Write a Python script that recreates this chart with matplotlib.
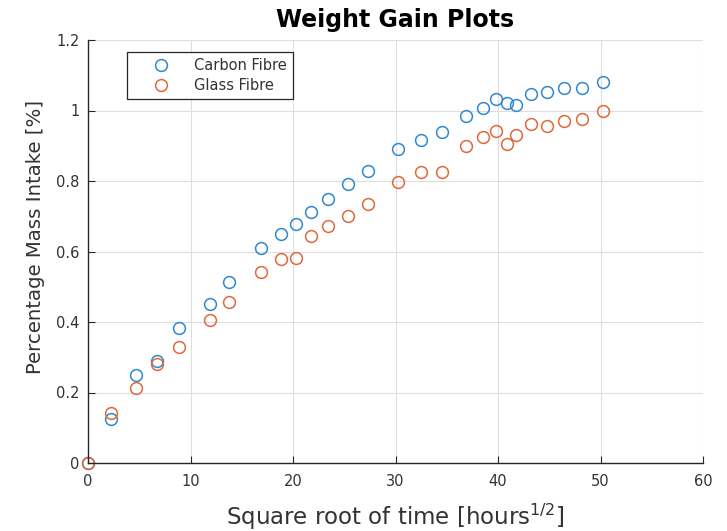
import matplotlib.pyplot as plt
import numpy as np

plt.rcParams['font.family'] = ['DejaVu Sans']

# sqrt of time [hours^1/2]
sqrt_time = [0, 2.2, 4.7, 6.7, 8.9, 11.9, 13.8, 16.9, 18.8, 20.3, 21.8, 23.4, 25.4,
             27.3, 30.2, 32.5, 34.5, 36.9, 38.5, 39.8, 40.9, 41.8, 43.2, 44.8,
             46.4, 48.2, 50.2]
carbon = [0, 0.124, 0.249, 0.289, 0.382, 0.452, 0.513, 0.610, 0.650, 0.679, 0.711,
          0.750, 0.792, 0.828, 0.892, 0.916, 0.939, 0.983, 1.006, 1.033, 1.022,
          1.017, 1.048, 1.052, 1.065, 1.063, 1.082]
glass = [0, 0.143, 0.213, 0.281, 0.329, 0.407, 0.456, 0.543, 0.579, 0.581, 0.645,
         0.671, 0.701, 0.736, 0.796, 0.826, 0.826, 0.900, 0.926, 0.943, 0.905,
         0.930, 0.962, 0.955, 0.970, 0.977, 0.999]

blue = '#2f88d0'
orange = '#e0683a'
txt = '#333333'

fig = plt.figure(figsize=(7.27, 5.31), dpi=100)
ax = fig.add_axes([88/727, 1-463/531, 615/727, 423/531])

ax.plot(sqrt_time, carbon, 'o', mfc='none', mec=blue, ms=8.5, mew=1.1,
        label='Carbon Fibre', clip_on=False)
ax.plot(sqrt_time, glass, 'o', mfc='none', mec=orange, ms=8.5, mew=1.1,
        label='Glass Fibre', clip_on=False)

ax.set_xlim(0, 60)
ax.set_ylim(0, 1.2)
ax.set_xticks(np.arange(0, 61, 10))
ax.set_yticks([0, 0.2, 0.4, 0.6, 0.8, 1, 1.2])
ax.set_yticklabels(['0', '0.2', '0.4', '0.6', '0.8', '1', '1.2'])
ax.grid(True, color='#dedede', lw=0.8)
ax.set_axisbelow(True)
for s in ['top', 'right']:
    ax.spines[s].set_visible(False)
for s in ['left', 'bottom']:
    ax.spines[s].set_color('#262626')
    ax.spines[s].set_linewidth(1.0)
ax.tick_params(direction='in', length=5, colors='#262626', labelcolor=txt,
               labelsize=10.5)
ax.tick_params(axis='x', pad=8)
ax.tick_params(axis='y', pad=6)

ax.set_title('Weight Gain Plots', fontsize=17, fontweight='bold', pad=9)
ax.set_xlabel('Square root of time [hours$^{1/2}$]', fontsize=16.5, color=txt,
              labelpad=9)
ax.set_ylabel('Percentage Mass Intake [%]', fontsize=14.2, color=txt)
ax.yaxis.set_label_coords(-0.07, 0.535)

leg = ax.legend(loc='upper left', bbox_to_anchor=(127/727, 1-52/531),
                bbox_transform=fig.transFigure, fancybox=False, edgecolor='#262626',
                framealpha=1, fontsize=10.5, borderpad=0.4, handletextpad=0.3,
                labelspacing=0.35, borderaxespad=0, handlelength=3.9)
leg.get_frame().set_linewidth(0.9)
for t in leg.get_texts():
    t.set_color(txt)

fig.savefig('out.png', dpi=100)
